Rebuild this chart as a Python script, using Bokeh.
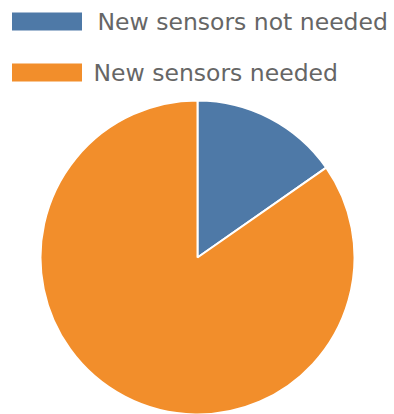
import math
from bokeh.plotting import figure
from bokeh.models import Range1d, ColumnDataSource
from bokeh.core.properties import value
from bokeh.embed import file_html
from bokeh.resources import INLINE

categories = ["New sensors not needed", "New sensors needed"]
shares = [15.3, 84.7]
colors = ["#4E79A7", "#F28E2B"]

W, H = 394, 414
p = figure(width=W, height=H, output_backend="svg", toolbar_location=None,
           x_range=Range1d(0, W), y_range=Range1d(0, H), min_border=0)
p.axis.visible = False
p.grid.visible = False
p.outline_line_color = None
p.background_fill_color = "white"
p.border_fill_color = "white"

total = sum(shares)
starts, ends = [], []
cum = 0.0
for s in shares:
    a0 = math.pi / 2 - 2 * math.pi * cum / total
    cum += s
    a1 = math.pi / 2 - 2 * math.pi * cum / total
    starts.append(a1)
    ends.append(a0)

src = ColumnDataSource(dict(cat=categories, share=shares, color=colors,
                            start=starts, end=ends))
cx, cy, r = 197, H - 257, 157
p.wedge(x=cx, y=cy, radius=r, start_angle="start", end_angle="end",
        direction="anticlock", fill_color="color", line_color="white",
        line_width=2, source=src)

# legend
leg_y = [H - 21, H - 72]
leg_tx = [97, 93]
p.rect(x=[46.5, 46.5], y=leg_y, width=70, height=18, fill_color=colors,
       line_color=None)
p.text(x=leg_tx, y=leg_y, text=categories, text_font=value("DejaVu Sans"),
       text_font_size="23.5px", text_color="#666666", text_baseline="middle",
       text_align="left")

open("out.html", "w").write(file_html(p, INLINE))
